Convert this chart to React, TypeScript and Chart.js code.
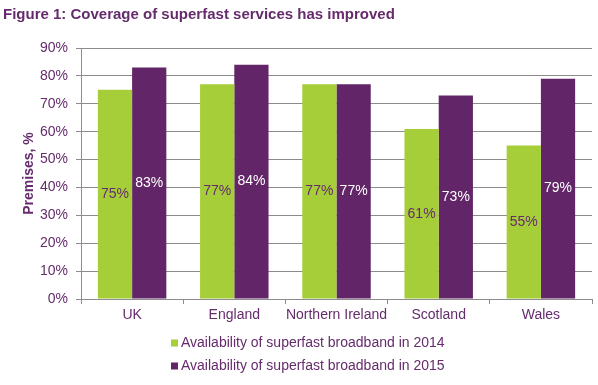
import React, { useEffect, useRef } from "react";
import { Chart, registerables } from "chart.js";

Chart.register(...registerables);

const categories = ["UK", "England", "Northern Ireland", "Scotland", "Wales"];
const series2014 = [75, 77, 77, 61, 55];
const series2015 = [83, 84, 77, 73, 79];
const seriesLabels = [
  "Availability of superfast broadband in 2014",
  "Availability of superfast broadband in 2015",
];
const yMax = 90;
const yStep = 10;
const titleText = "Figure 1: Coverage of superfast services has improved";
const yTitle = "Premises, %";

const GREEN = "#a6ce39";
const PURPLE = "#622567";
const TEXT_PURPLE = "#652b6c";
const GRID = "#8c8c8c";
const FONT = "'Liberation Sans', Arial, sans-serif";

const valueLabelPlugin = {
  id: "valueLabels",
  afterDatasetsDraw(chart: any) {
    const ctx = chart.ctx;
    ctx.save();
    ctx.font = `14px ${FONT}`;
    ctx.textAlign = "center";
    ctx.textBaseline = "middle";
    chart.data.datasets.forEach((ds: any, di: number) => {
      const meta = chart.getDatasetMeta(di);
      meta.data.forEach((bar: any, i: number) => {
        const v = ds.data[i];
        ctx.fillStyle = di === 0 ? TEXT_PURPLE : "#ffffff";
        ctx.fillText(`${v}%`, bar.x, (bar.y + bar.base) / 2);
      });
    });
    ctx.restore();
  },
};

const legendPlugin = {
  id: "customLegend",
  afterDraw(chart: any) {
    const ctx = chart.ctx;
    ctx.save();
    ctx.font = `14px ${FONT}`;
    ctx.textAlign = "left";
    ctx.textBaseline = "middle";
    const rows = [343, 366];
    chart.data.datasets.forEach((ds: any, di: number) => {
      const y = rows[di];
      ctx.fillStyle = ds.backgroundColor;
      ctx.fillRect(171, y - 3.5, 7, 7);
      ctx.fillStyle = TEXT_PURPLE;
      ctx.fillText(ds.label, 181, y);
    });
    ctx.restore();
  },
};

export default function App() {
  const ref = useRef<HTMLCanvasElement>(null);
  useEffect(() => {
    if (!ref.current) return;
    const chart = new Chart(ref.current, {
      type: "bar",
      data: {
        labels: categories,
        datasets: [
          { label: seriesLabels[0], data: series2014, backgroundColor: GREEN, borderWidth: 0 },
          { label: seriesLabels[1], data: series2015, backgroundColor: PURPLE, borderWidth: 0 },
        ],
      },
      plugins: [valueLabelPlugin, legendPlugin],
      options: {
        responsive: false,
        animation: false,
        datasets: { bar: { categoryPercentage: 0.67, barPercentage: 1 } },
        layout: { padding: { left: 3, right: 6, top: 0, bottom: 0 } },
        plugins: {
          legend: { display: false },
          tooltip: { enabled: false },
          title: {
            display: true,
            text: titleText,
            align: "start",
            color: TEXT_PURPLE,
            font: { family: FONT, size: 15, weight: "bold" },
            padding: { top: 6, bottom: 24 },
          },
        },
        scales: {
          x: {
            grid: {
              drawOnChartArea: false,
              drawTicks: true,
              tickLength: 5,
              color: GRID,
              offset: true,
            },
            border: { color: GRID },
            ticks: {
              color: TEXT_PURPLE,
              font: { family: FONT, size: 14 },
              padding: 3,
              maxRotation: 0,
              autoSkip: false,
            },
            afterFit(scale: any) {
              scale.height = 86;
            },
          },
          y: {
            min: 0,
            max: yMax,
            grid: { color: GRID, tickLength: 5 },
            border: { color: GRID },
            ticks: {
              stepSize: yStep,
              color: TEXT_PURPLE,
              font: { family: FONT, size: 14 },
              padding: 8,
              callback: (v: any) => `${v}%`,
            },
            title: {
              display: true,
              text: yTitle,
              color: TEXT_PURPLE,
              font: { family: FONT, size: 14, weight: "bold" },
              padding: { top: 18, bottom: 0 },
            },
            afterFit(scale: any) {
              scale.width = 78;
            },
          },
        },
      },
    });
    return () => chart.destroy();
  }, []);
  return (
    <div style={{ position: "absolute", left: 0, top: 0, width: 598, height: 385 }}>
      <canvas ref={ref} width={598} height={385} />
    </div>
  );
}
